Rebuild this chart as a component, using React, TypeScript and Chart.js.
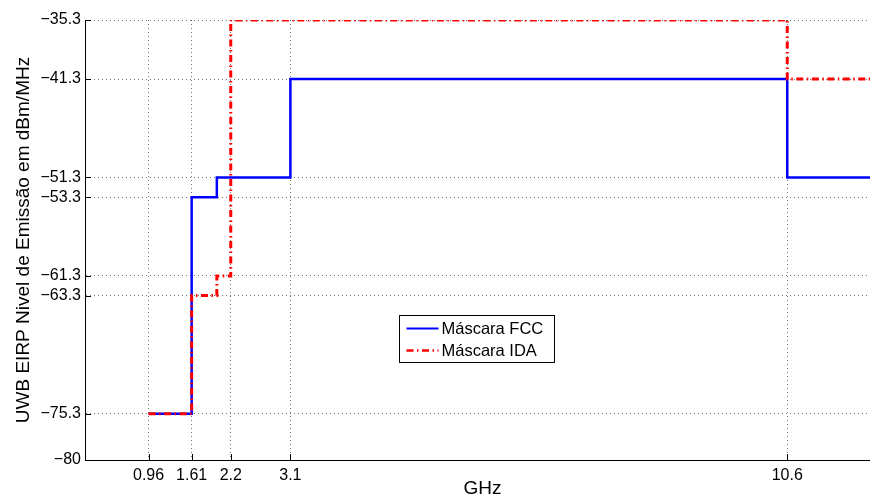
import { useEffect, useRef } from 'react';
import { Chart, registerables } from 'chart.js';

Chart.register(...registerables);

// Axis ticks (GHz and dBm/MHz)
const xTicks = [0.96, 1.61, 2.2, 3.1, 10.6];
const xTickLabels = ['0.96', '1.61', '2.2', '3.1', '10.6'];
const yTicks = [-80, -75.3, -63.3, -61.3, -53.3, -51.3, -41.3, -35.3];
const yTickLabels = ['−80', '−75.3', '−63.3', '−61.3', '−53.3', '−51.3', '−41.3', '−35.3'];

// Mask breakpoints (GHz) and the level that holds from each breakpoint on
const fccEdges = [0.96, 1.61, 1.99, 3.1, 10.6, 12];
const fccLevels = [-75.3, -53.3, -51.3, -41.3, -51.3, -51.3];
const idaEdges = [0.96, 1.61, 1.99, 2.2, 10.6, 12];
const idaLevels = [-75.3, -63.3, -61.3, -35.3, -41.3, -41.3];

const seriesNames = ['Máscara FCC', 'Máscara IDA'];

const FONT = '"Liberation Sans", Arial, Helvetica, sans-serif';
const RED_DASH = [7, 3.5, 1.5, 3.5];

const toPoints = (xs: number[], ys: number[]) => xs.map((x, i) => ({ x, y: ys[i] }));

// Short tick marks pointing into the plot area
const inwardTicks = {
  id: 'inwardTicks',
  afterDatasetsDraw(chart: any) {
    const { ctx, chartArea, scales } = chart;
    ctx.save();
    ctx.strokeStyle = '#000';
    ctx.lineWidth = 1;
    ctx.beginPath();
    for (const v of yTicks) {
      const y = Math.round(scales.y.getPixelForValue(v)) + 0.5;
      ctx.moveTo(chartArea.left, y);
      ctx.lineTo(chartArea.left + 6, y);
    }
    for (const v of xTicks) {
      const x = Math.round(scales.x.getPixelForValue(v)) + 0.5;
      ctx.moveTo(x, chartArea.bottom);
      ctx.lineTo(x, chartArea.bottom - 6);
    }
    ctx.stroke();
    ctx.restore();
  },
};

// Boxed legend placed inside the plot area
const boxLegend = {
  id: 'boxLegend',
  afterDraw(chart: any) {
    const { ctx, chartArea } = chart;
    const w = chartArea.right - chartArea.left;
    const h = chartArea.bottom - chartArea.top;
    const bx = Math.round(chartArea.left + w * 0.3945) + 0.5;
    const by = Math.round(chartArea.top + h * 0.67) + 0.5;
    const bw = 155;
    const bh = 47;
    ctx.save();
    ctx.fillStyle = '#fff';
    ctx.fillRect(bx, by, bw, bh);
    ctx.strokeStyle = '#000';
    ctx.lineWidth = 1;
    ctx.strokeRect(bx, by, bw, bh);
    const rows = [by + 13, by + 35];
    chart.data.datasets.forEach((ds: any, i: number) => {
      const y = rows[i];
      ctx.beginPath();
      ctx.strokeStyle = ds.borderColor;
      ctx.lineWidth = i === 0 ? 2 : 2.5;
      ctx.setLineDash(ds.borderDash || []);
      ctx.moveTo(bx + 7, y);
      ctx.lineTo(bx + 39, y);
      ctx.stroke();
      ctx.setLineDash([]);
      ctx.fillStyle = '#000';
      ctx.font = `16.5px ${FONT}`;
      ctx.textBaseline = 'middle';
      ctx.textAlign = 'left';
      ctx.fillText(ds.label, bx + 42, y + 1);
    });
    ctx.restore();
  },
};

export default function App() {
  const canvasRef = useRef<HTMLCanvasElement | null>(null);

  useEffect(() => {
    const canvas = canvasRef.current;
    if (!canvas) return;
    const chart = new Chart(canvas, {
      type: 'line',
      data: {
        datasets: [
          {
            label: seriesNames[0],
            data: toPoints(fccEdges, fccLevels),
            borderColor: 'rgb(0,0,255)',
            borderWidth: 2.5,
            stepped: 'before',
            pointRadius: 0,
            fill: false,
            order: 2,
          },
          {
            label: seriesNames[1],
            data: toPoints(idaEdges, idaLevels),
            borderColor: 'rgb(255,0,0)',
            borderWidth: 3,
            borderDash: RED_DASH,
            stepped: 'before',
            pointRadius: 0,
            fill: false,
            order: 1,
          },
        ],
      },
      options: {
        animation: false,
        responsive: false,
        devicePixelRatio: 1,
        layout: { padding: { top: 20, right: 10, left: 0, bottom: 0 } },
        plugins: {
          legend: { display: false },
          tooltip: { enabled: false },
        },
        scales: {
          x: {
            type: 'linear',
            min: 0,
            max: 12,
            afterBuildTicks: (s: any) => {
              s.ticks = xTicks.map((v) => ({ value: v }));
            },
            afterFit: (s: any) => {
              s.height = 40;
            },
            ticks: {
              autoSkip: false,
              maxRotation: 0,
              padding: 6,
              color: '#000',
              font: { family: FONT, size: 16 },
              callback: (_v: any, i: number) => xTickLabels[i],
            },
            grid: { color: 'rgba(0,0,0,0.55)', lineWidth: 1, drawTicks: false },
            border: { display: true, color: '#000', width: 1, dash: [1, 3] },
            title: {
              display: true,
              text: 'GHz',
              color: '#000',
              font: { family: FONT, size: 19 },
              padding: { top: 0, bottom: 0 },
            },
          },
          y: {
            type: 'linear',
            min: -80,
            max: -35.3,
            afterBuildTicks: (s: any) => {
              s.ticks = yTicks.map((v) => ({ value: v }));
            },
            afterFit: (s: any) => {
              s.width = 85;
            },
            ticks: {
              autoSkip: false,
              padding: 4,
              color: '#000',
              font: { family: FONT, size: 16 },
              callback: (_v: any, i: number) => yTickLabels[i],
            },
            grid: { color: 'rgba(0,0,0,0.55)', lineWidth: 1, drawTicks: false },
            border: { display: true, color: '#000', width: 1, dash: [1, 3] },
            title: {
              display: true,
              text: 'UWB EIRP Nivel de Emissão em dBm/MHz',
              color: '#000',
              font: { family: FONT, size: 19 },
              padding: { top: 12, bottom: 0 },
            },
          },
        },
      },
      plugins: [inwardTicks, boxLegend],
    });
    return () => chart.destroy();
  }, []);

  return (
    <div
      style={{
        position: 'absolute',
        left: 0,
        top: 0,
        width: 870,
        height: 500,
        overflow: 'hidden',
        background: '#fff',
      }}
    >
      <canvas ref={canvasRef} width={890} height={500} style={{ width: 890, height: 500, display: 'block' }} />
    </div>
  );
}
